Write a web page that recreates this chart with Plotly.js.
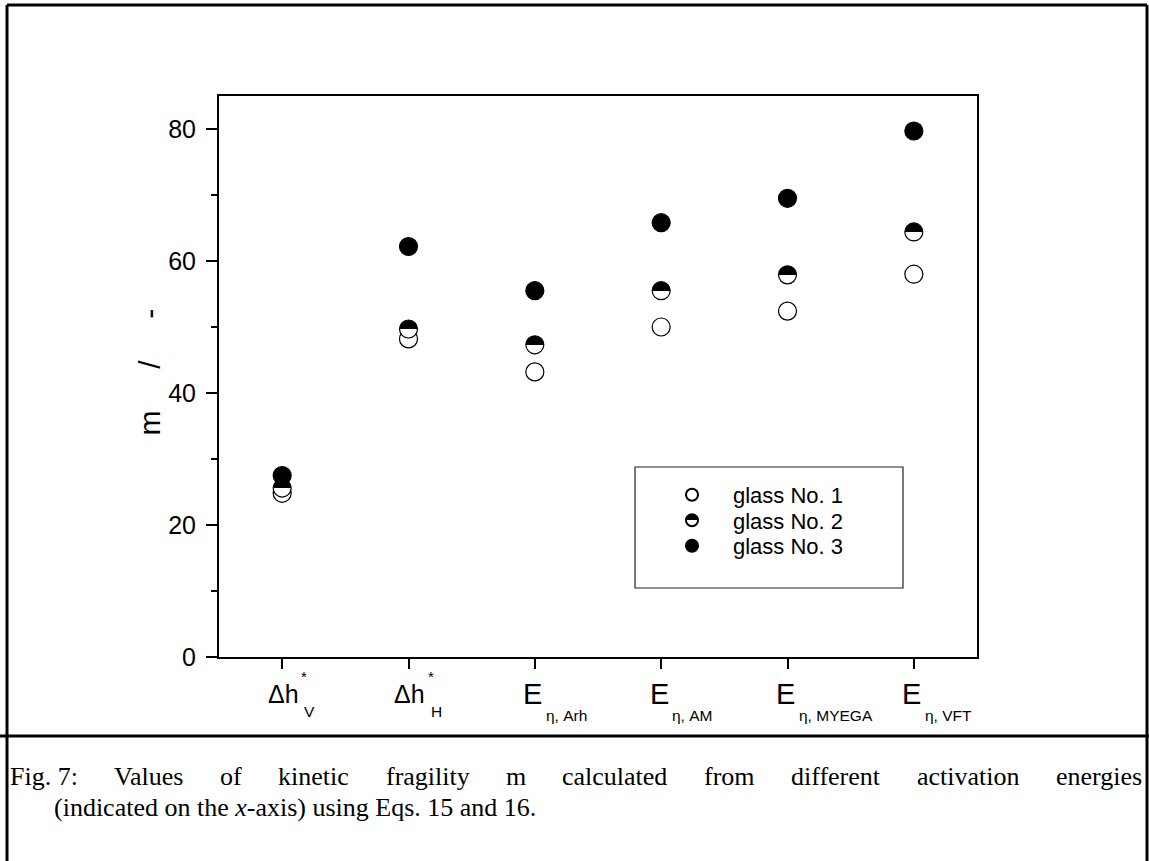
<!DOCTYPE html>
<html>
<head>
<meta charset="utf-8">
<script src="https://cdn.plot.ly/plotly-3.0.1.min.js"></script>
<style>
  html, body { margin: 0; padding: 0; background: #ffffff; }
  #chart { width: 1149px; height: 861px; }
</style>
</head>
<body>
<div id="chart"></div>
<script>
// Kinetic fragility m for three glasses, per activation-energy definition
const categoryPos = [1, 2, 3, 4, 5, 6];
const categoryMain = ['Δh', 'Δh', 'E', 'E', 'E', 'E'];
const categorySup = ['*', '*', '', '', '', ''];
const categorySub = ['V', 'H', 'η, Arh', 'η, AM', 'η, MYEGA', 'η, VFT'];
const glass1 = [24.8, 48.2, 43.2, 50.0, 52.4, 58.0];
const glass2 = [25.6, 49.7, 47.3, 55.5, 57.9, 64.4];
const glass3 = [27.5, 62.2, 55.5, 65.8, 69.5, 79.7];
const seriesNames = ['glass No. 1', 'glass No. 2', 'glass No. 3'];
const yTickVals = [0, 20, 40, 60, 80];
const yMinorVals = [10, 30, 50, 70];
const yTitle = 'm\u00a0\u00a0\u00a0\u00a0\u00a0/\u00a0\u00a0\u00a0\u00a0\u00a0-';
const captionLabel = 'Fig.\u00a07:';
const captionLine1 = 'Values of kinetic fragility m calculated from different activation energies';
const captionLine2 = '(indicated on the <i>x</i>-axis) using Eqs. 15 and 16.';

// plot frame in page pixels
const W = 1149, H = 861;
const L = 219, R = 977, T = 96, B = 657;
const px = x => (x - L) / (R - L);
const py = y => (B - y) / (B - T);

const FONT = 'Liberation Sans, Arial, sans-serif';
const SERIF = 'Liberation Serif, Times New Roman, serif';
const CAPTION_SIZE = 26;

const baseMarker = { size: 18, line: { color: '#000000', width: 1.2 } };

const traces = [
  { x: categoryPos, y: glass1, name: seriesNames[0], type: 'scatter', mode: 'markers',
    marker: Object.assign({}, baseMarker, { color: '#ffffff' }) },
  { x: categoryPos, y: glass2, name: seriesNames[1], type: 'scatter', mode: 'markers',
    marker: Object.assign({}, baseMarker, { color: '#000000' }) },
  { x: categoryPos, y: glass3, name: seriesNames[2], type: 'scatter', mode: 'markers',
    marker: Object.assign({}, baseMarker, { color: '#000000' }) }
];

const line = (x0, y0, x1, y1, w) => ({
  type: 'line', xref: 'paper', yref: 'paper',
  x0: px(x0), y0: py(y0), x1: px(x1), y1: py(y1),
  line: { color: '#000000', width: w }
});

// category labels: main symbol centred on the tick, super/subscript to its right
const annotations = [];
categoryPos.forEach((c, i) => {
  const isE = categoryMain[i] === 'E';
  annotations.push({
    text: categoryMain[i], xref: 'x', yref: 'paper', x: c, y: py(694),
    xanchor: 'center', yanchor: 'middle', showarrow: false, xshift: isE ? -2 : 1,
    font: { family: FONT, size: isE ? 29 : 25 }
  });
  if (categorySup[i]) {
    annotations.push({
      text: categorySup[i], xref: 'x', yref: 'paper', x: c, y: py(676),
      xanchor: 'left', yanchor: 'middle', showarrow: false, xshift: 17,
      font: { family: FONT, size: 15 }
    });
  }
  annotations.push({
    text: categorySub[i], xref: 'x', yref: 'paper', x: c, y: py(isE ? 715 : 711),
    xanchor: 'left', yanchor: 'middle', showarrow: false, xshift: isE ? 9 : 20,
    font: { family: FONT, size: 15.5 }
  });
});

annotations.push({
  text: yTitle, xref: 'paper', yref: 'paper', x: px(130), y: py(372),
  showarrow: false, textangle: -90, font: { family: FONT, size: 30 }
});

// caption: label, then first line justified to the right frame; second line hangs
(function () {
  const ctx = document.createElement('canvas').getContext('2d');
  ctx.font = CAPTION_SIZE + 'px "Liberation Serif"';
  const words = [captionLabel].concat(captionLine1.split(' '));
  const widths = words.map(w => ctx.measureText(w).width);
  const left = 8, right = 1140;
  const gap = (right - left - widths.reduce((a, b) => a + b, 0)) / (words.length - 1);
  let xCur = left;
  words.forEach((w, i) => {
    annotations.push({
      text: w, xref: 'paper', yref: 'paper', x: px(xCur), y: py(776),
      xanchor: 'left', yanchor: 'middle', showarrow: false,
      font: { family: SERIF, size: CAPTION_SIZE }
    });
    xCur += widths[i] + gap;
  });
})();
annotations.push({
  text: captionLine2, xref: 'paper', yref: 'paper', x: px(52), y: py(807),
  xanchor: 'left', yanchor: 'middle', showarrow: false,
  font: { family: SERIF, size: CAPTION_SIZE }
});

const layout = {
  width: W, height: H,
  margin: { l: L, r: W - R, t: T, b: H - B, pad: 0 },
  paper_bgcolor: '#ffffff', plot_bgcolor: '#ffffff',
  showlegend: true,
  font: { family: FONT, color: '#000000', size: 22 },
  xaxis: {
    range: [0.5, 6.5], tickmode: 'array', tickvals: categoryPos, showticklabels: false,
    showgrid: false, zeroline: false, showline: true, linecolor: '#000000', linewidth: 2,
    mirror: true, ticks: 'outside', ticklen: 10, tickwidth: 2, tickcolor: '#000000'
  },
  yaxis: {
    range: [0, 85], tickmode: 'array', tickvals: yTickVals,
    showgrid: false, zeroline: false, showline: true, linecolor: '#000000', linewidth: 2,
    mirror: true, ticks: 'outside', ticklen: 11, tickwidth: 2, tickcolor: '#000000',
    ticklabelstandoff: 5,
    tickfont: { family: FONT, size: 25 },
    minor: { tickvals: yMinorVals, ticks: 'outside', ticklen: 6, tickwidth: 2, tickcolor: '#000000' }
  },
  legend: {
    x: px(651), y: py(474), xanchor: 'left', yanchor: 'top',
    bgcolor: 'rgba(0,0,0,0)', borderwidth: 0, itemsizing: 'constant', itemwidth: 72,
    font: { family: FONT, size: 22 }, tracegroupgap: 0
  },
  annotations: annotations,
  shapes: [
    // legend box
    { type: 'rect', xref: 'paper', yref: 'paper', x0: px(635), y0: py(467), x1: px(903), y1: py(588),
      line: { color: '#222222', width: 1.2 }, fillcolor: 'rgba(0,0,0,0)' },
    // outer figure frame and caption separator
    line(7, 5, 1147, 5, 3),
    line(7, 5, 7, H, 3),
    line(1147, 5, 1147, H, 3),
    line(0, 736, W, 736, 3)
  ]
};

Plotly.newPlot('chart', traces, layout, { staticPlot: true, displayModeBar: false }).then(gd => {
  // glass No. 2 markers: upper half black, lower half white
  const svg = gd.querySelector('svg.main-svg');
  const ns = 'http://www.w3.org/2000/svg';
  let defs = svg.querySelector('defs');
  if (!defs) { defs = document.createElementNS(ns, 'defs'); svg.insertBefore(defs, svg.firstChild); }
  const grad = document.createElementNS(ns, 'linearGradient');
  grad.setAttribute('id', 'halfTop');
  grad.setAttribute('x1', '0'); grad.setAttribute('y1', '0');
  grad.setAttribute('x2', '0'); grad.setAttribute('y2', '1');
  [['0', '#000'], ['0.5', '#000'], ['0.5', '#fff'], ['1', '#fff']].forEach(([o, c]) => {
    const s = document.createElementNS(ns, 'stop');
    s.setAttribute('offset', o); s.setAttribute('stop-color', c);
    grad.appendChild(s);
  });
  defs.appendChild(grad);
  const paintHalf = el => { el.style.fill = 'url(#halfTop)'; };
  const traceGroups = gd.querySelectorAll('.scatterlayer .trace');
  if (traceGroups[1]) traceGroups[1].querySelectorAll('path.point').forEach(paintHalf);
  const legendItems = gd.querySelectorAll('.legend .traces');
  if (legendItems[1]) legendItems[1].querySelectorAll('path.scatterpts').forEach(paintHalf);

  // tighter legend rows
  const rowGap = 25.5;
  let firstY = null;
  legendItems.forEach((g, i) => {
    const m = /translate\(\s*([-\d.]+)[ ,]+([-\d.]+)\s*\)/.exec(g.getAttribute('transform') || '');
    if (!m) return;
    if (firstY === null) firstY = parseFloat(m[2]);
    g.setAttribute('transform', 'translate(' + m[1] + ',' + (firstY + i * rowGap) + ')');
  });
});
</script>
</body>
</html>
